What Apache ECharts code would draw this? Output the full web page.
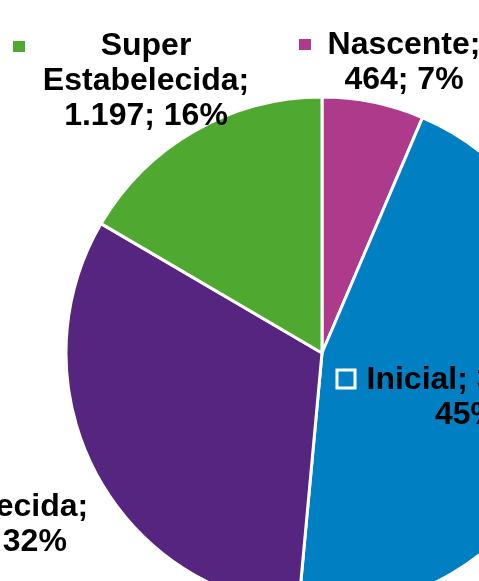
<!DOCTYPE html>
<html>
<head>
<meta charset="utf-8">
<script src="https://cdn.jsdelivr.net/npm/echarts@6/dist/echarts.min.js"></script>
<style>
  html, body { margin: 0; padding: 0; background: #fff; }
  #chart-container { width: 479px; height: 581px; }
</style>
</head>
<body>
<div id="chart-container"></div>
<script>
var categories = ['Nascente', 'Inicial', 'Estabelecida', 'Super Estabelecida'];
var values = [464, 3255, 2310, 1197];
var valueLabels = ['464', '3.255', '2.310', '1.197'];
var percentLabels = ['7%', '45%', '32%', '16%'];
var colors = ['#ae3a8c', '#0080c2', '#552580', '#4fa82f'];

// text block: centre x / top y ; legend key: left x / top y
var textPos = [[404, 28], [467, 363], [-15, 490], [146, 29]];
var keyPos = [[299, 37], [338.5, 371.5], [-150, 500], [13, 39]];

function labelLines(i) {
    var name = categories[i], v = valueLabels[i], p = percentLabels[i];
    if (i === 0) return [name + ';', v + '; ' + p];
    if (i === 1) return [name + '; ' + v + ';', p];
    if (i === 2) return [name + ';', v + '; ' + p];
    return ['Super', 'Estabelecida;', v + '; ' + p];
}

var data = categories.map(function (c, i) {
    return { name: c, value: values[i] };
});

var keyRich = {};
colors.forEach(function (c, i) {
    keyRich['sq' + i] = i === 1
        ? { width: 15, height: 15, backgroundColor: c, borderColor: '#fff', borderWidth: 3 }
        : { width: 12, height: 11, backgroundColor: c };
});

var dom = document.getElementById('chart-container');
var myChart = echarts.init(dom, null, { renderer: 'canvas' });

var option = {
    backgroundColor: '#fff',
    animation: false,
    series: [{
        type: 'pie',
        center: [322, 353],
        radius: [0, 256],
        startAngle: 90,
        clockwise: true,
        color: colors,
        itemStyle: { borderColor: '#fff', borderWidth: 3 },
        labelLine: { show: false },
        label: {
            show: true,
            position: 'outside',
            overflow: 'none',
            color: '#000',
            fontFamily: 'Liberation Sans, Arial, sans-serif',
            fontWeight: 'bold',
            fontSize: 32,
            lineHeight: 35,
            formatter: function (params) {
                return labelLines(params.dataIndex).join('\n');
            }
        },
        labelLayout: function (params) {
            var p = textPos[params.dataIndex];
            return { x: p[0], y: p[1], align: 'center', verticalAlign: 'top', hideOverlap: false };
        },
        data: data
    }, {
        // legend keys shown next to each data label
        type: 'pie',
        silent: true,
        center: [322, 353],
        radius: [0, 256],
        startAngle: 90,
        clockwise: true,
        itemStyle: { color: 'rgba(0,0,0,0)', borderWidth: 0 },
        labelLine: { show: false },
        label: {
            show: true,
            position: 'outside',
            overflow: 'none',
            lineHeight: 15,
            rich: keyRich,
            formatter: function (params) {
                return '{sq' + params.dataIndex + '|}';
            }
        },
        labelLayout: function (params) {
            var p = keyPos[params.dataIndex];
            return { x: p[0], y: p[1], align: 'left', verticalAlign: 'top', hideOverlap: false };
        },
        data: data
    }]
};

myChart.setOption(option);
window.addEventListener('resize', myChart.resize);
</script>
</body>
</html>
